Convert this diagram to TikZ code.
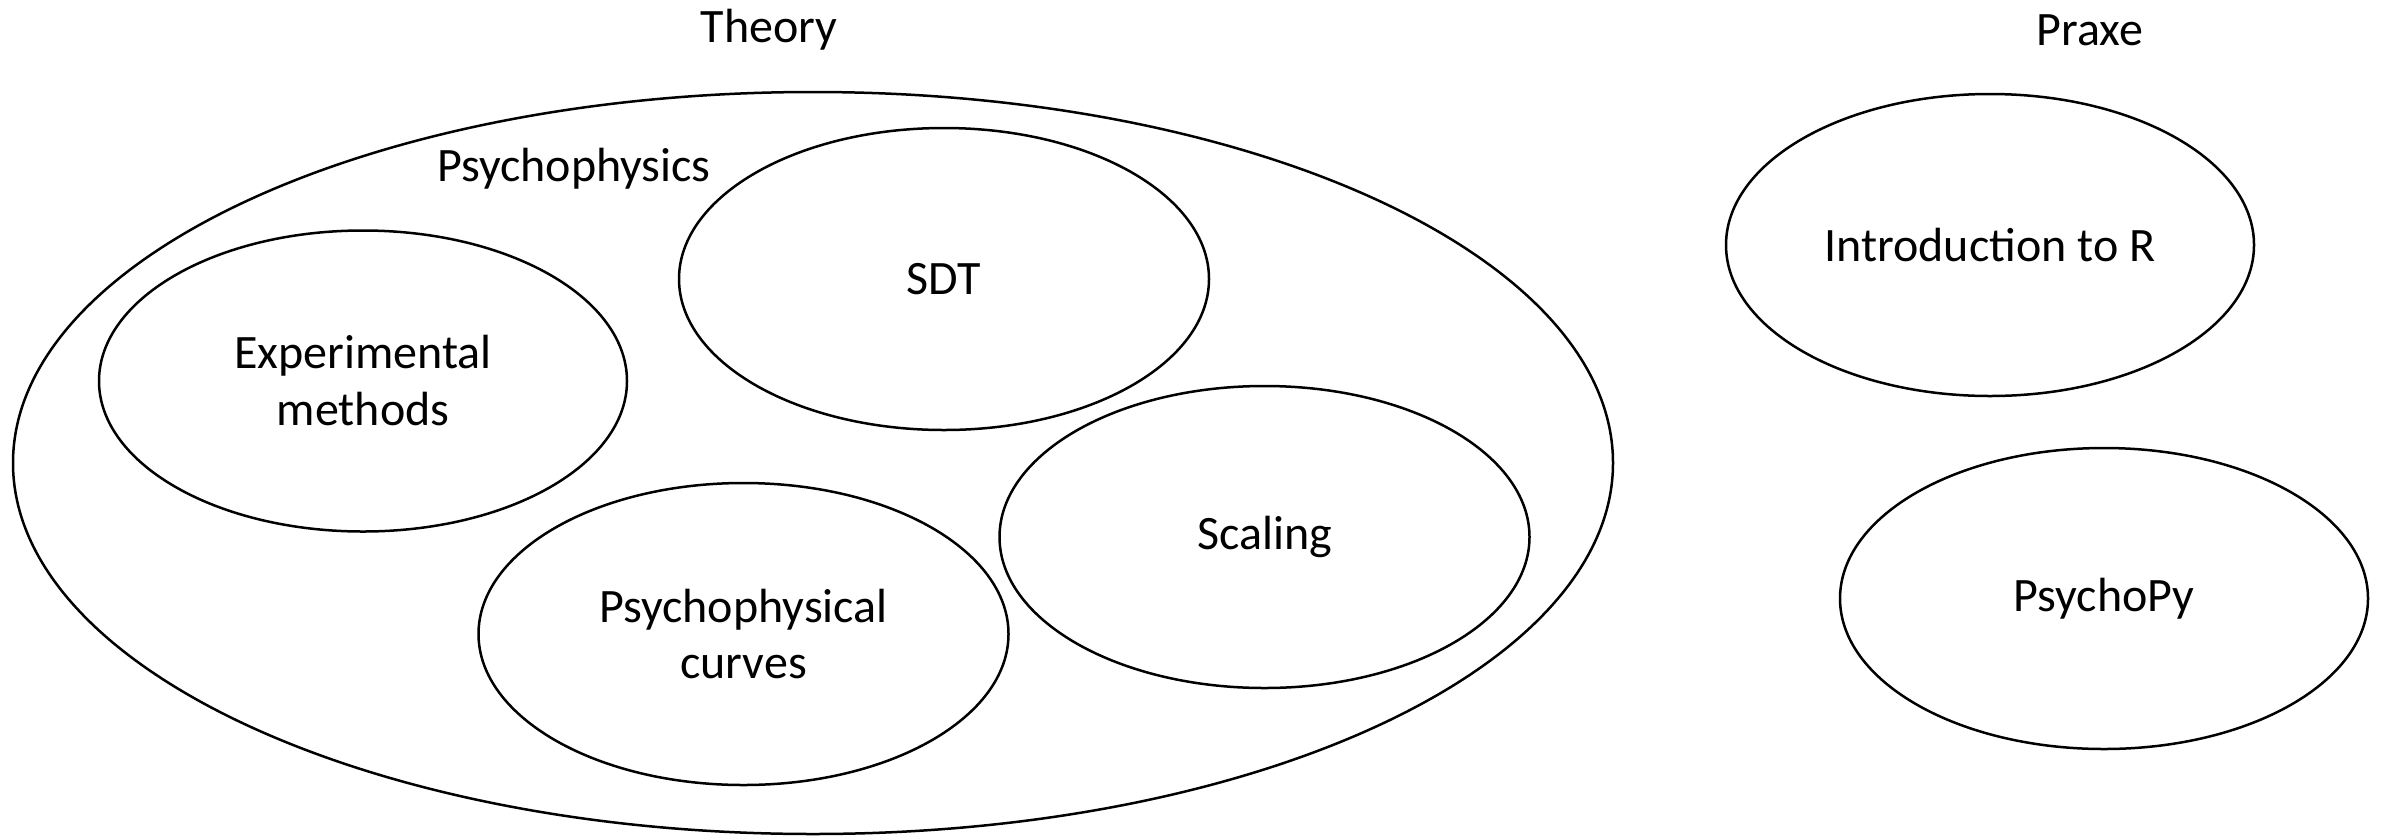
\documentclass[tikz,border=0pt]{standalone}
\usepackage{fontspec}
\setmainfont{Carlito}
\usetikzlibrary{shapes.geometric}
\begin{document}
\begin{tikzpicture}[x=1pt,y=-1pt,
  oval/.style={draw, ellipse, line width=2.5pt, inner sep=0pt, outer sep=0pt,
    align=center, font=\fontsize{48}{57}\selectfont},
  lbl/.style={font=\fontsize{48}{57}\selectfont, inner sep=0pt}]
\useasboundingbox (0,0) rectangle (2382,836);
\node[oval, minimum width=1600pt, minimum height=742pt] (theory) at (813,463) {};
\node[oval, minimum width=528pt, minimum height=301pt] (exp) at (363,381) {Experimental\\methods};
\node[oval, minimum width=530pt, minimum height=302pt] (sdt) at (944,279) {SDT};
\node[oval, minimum width=530pt, minimum height=302pt] (curves) at (743.5,634) {Psychophysical\\curves};
\node[oval, minimum width=530pt, minimum height=302pt] (scaling) at (1264.5,537) {Scaling};
\node[oval, minimum width=528pt, minimum height=302pt] (introR) at (1990,245) {Introduction to R};
\node[oval, minimum width=528pt, minimum height=301pt] (psychopy) at (2104,598.5) {PsychoPy};
\node[lbl] (theorylbl) at (769,30) {Theory};
\node[lbl] (praxelbl) at (2090,30) {Praxe};
\node[lbl] (psychlbl) at (574,169) {Psychophysics};
\end{tikzpicture}
\end{document}
